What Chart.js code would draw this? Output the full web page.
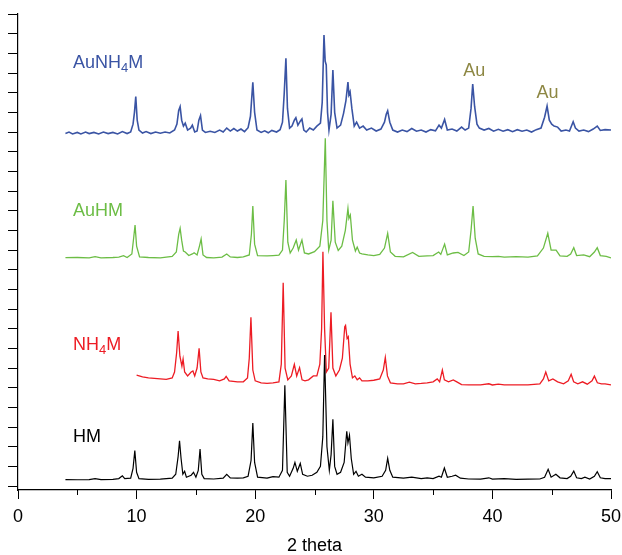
<!DOCTYPE html>
<html>
<head>
<meta charset="utf-8">
<script src="https://cdn.jsdelivr.net/npm/chart.js@4"></script>
<style>
  html, body { margin: 0; padding: 0; background: #fff; }
  #wrap { width: 622px; height: 555px; }
</style>
</head>
<body>
<div id="wrap"><canvas id="grafico"></canvas></div>
<script>
// 2 theta positions and stacked (offset) intensities
const hmTheta = [4.0,5.0,6.0,6.5,7.0,8.0,8.5,8.8,9.0,9.5,9.7,9.85,10.0,10.2,11.0,12.0,13.0,13.3,13.5,13.62,13.75,13.9,14.05,14.2,14.6,14.8,15.0,15.2,15.35,15.5,15.7,16.5,17.3,17.6,17.9,18.5,19.0,19.4,19.65,19.8,19.95,20.2,21.0,21.5,22.0,22.3,22.5,22.7,22.9,23.2,23.35,23.55,23.8,24.0,24.4,24.8,25.2,25.5,25.7,25.85,26.05,26.25,26.4,26.55,26.7,26.9,27.2,27.5,27.72,27.82,27.95,28.1,28.3,28.5,28.7,29.0,29.3,30.0,30.7,31.0,31.17,31.35,31.6,32.5,33.2,34.0,34.5,35.0,35.5,35.7,35.95,36.2,36.6,36.9,37.3,38.0,39.0,39.7,40.0,41.0,42.0,43.0,44.0,44.4,44.7,44.95,45.35,45.7,46.3,46.6,46.86,47.1,47.5,47.8,48.2,48.6,48.84,49.1,49.5,50.0];
const hmInt = [0.33,0.32,0.33,0.38,0.33,0.34,0.38,0.52,0.38,0.4,0.9,1.8,0.7,0.38,0.34,0.35,0.4,0.6,1.5,2.3,1.4,0.6,0.75,0.45,0.55,0.7,0.45,0.8,1.88,0.6,0.38,0.36,0.4,0.6,0.42,0.4,0.42,0.5,1.3,3.2,1.2,0.45,0.4,0.48,0.45,0.8,5.12,0.7,0.5,0.9,1.2,0.75,1.15,0.6,0.5,0.55,0.7,1.0,2.5,6.66,2.0,0.8,1.6,3.4,1.0,0.6,0.7,1.2,2.78,2.2,2.58,1.4,0.6,0.75,0.5,0.6,0.45,0.42,0.5,0.8,1.41,0.8,0.45,0.4,0.45,0.38,0.42,0.38,0.5,0.45,0.92,0.45,0.5,0.55,0.4,0.36,0.35,0.42,0.35,0.38,0.34,0.35,0.36,0.45,0.85,0.45,0.6,0.42,0.38,0.5,0.76,0.42,0.38,0.45,0.36,0.5,0.73,0.42,0.38,0.38];

const nh4mTheta = [10.0,10.5,11.0,11.5,12.0,12.5,13.0,13.2,13.38,13.5,13.65,13.82,13.92,14.05,14.3,14.6,14.75,14.9,15.1,15.27,15.42,15.6,16.0,16.5,17.0,17.4,17.55,17.8,18.5,19.0,19.35,19.5,19.64,19.8,20.0,20.5,21.0,21.5,22.0,22.2,22.36,22.52,22.75,23.05,23.3,23.5,23.74,23.95,24.2,24.5,24.9,25.2,25.45,25.6,25.71,25.85,26.0,26.2,26.39,26.55,26.8,27.1,27.35,27.55,27.62,27.75,27.85,28.0,28.2,28.4,28.6,28.8,29.0,29.5,30.0,30.5,30.8,30.97,31.15,31.4,32.0,32.5,33.0,33.5,34.0,34.5,35.0,35.35,35.55,35.78,35.95,36.3,36.7,37.0,37.4,38.0,39.0,39.7,40.0,40.5,41.0,42.0,43.0,44.0,44.3,44.5,44.75,45.1,45.5,46.0,46.4,46.64,46.85,47.2,47.6,48.0,48.4,48.6,48.85,49.2,49.5,50.0];
const nh4mInt = [5.64,5.55,5.5,5.48,5.45,5.42,5.5,5.8,6.8,7.88,6.6,6.1,6.46,5.8,5.6,5.8,5.85,5.6,6.0,7.0,5.8,5.5,5.45,5.42,5.35,5.45,5.58,5.35,5.3,5.3,5.5,6.5,8.58,5.9,5.35,5.25,5.22,5.25,5.3,6.2,10.34,6.0,5.4,5.6,6.19,5.6,6.02,5.4,5.35,5.4,5.6,5.6,6.2,8.0,11.91,8.0,5.8,6.0,8.83,6.0,5.6,5.9,6.5,8.1,8.17,7.5,7.59,6.2,5.5,5.6,5.4,5.5,5.35,5.35,5.38,5.45,5.9,6.54,5.6,5.25,5.2,5.2,5.28,5.2,5.22,5.25,5.3,5.45,5.3,5.9,5.4,5.3,5.4,5.3,5.16,5.14,5.14,5.2,5.14,5.18,5.14,5.14,5.14,5.2,5.45,5.8,5.35,5.45,5.3,5.2,5.35,5.68,5.3,5.2,5.3,5.18,5.35,5.59,5.25,5.2,5.2,5.14];

const auhmTheta = [4.0,5.0,6.0,6.5,7.0,8.0,8.5,8.9,9.2,9.6,9.75,9.87,10.0,10.25,11.0,12.0,13.0,13.35,13.55,13.67,13.8,13.95,14.1,14.4,14.7,14.85,15.1,15.3,15.44,15.6,15.9,16.5,17.2,17.6,17.9,18.5,19.0,19.5,19.68,19.8,19.95,20.2,21.0,21.5,22.0,22.3,22.45,22.59,22.75,22.95,23.2,23.46,23.65,23.94,24.15,24.5,25.0,25.45,25.7,25.91,26.05,26.2,26.4,26.55,26.75,27.0,27.3,27.6,27.82,27.9,28.02,28.2,28.45,28.6,28.8,29.0,29.5,30.0,30.5,30.9,31.17,31.4,31.8,32.5,33.27,33.8,34.5,35.0,35.47,35.65,35.97,36.2,36.7,37.1,37.6,38.0,38.2,38.37,38.55,38.8,39.3,40.0,40.5,41.0,42.0,43.0,43.8,44.3,44.67,44.95,45.37,45.7,46.3,46.6,46.86,47.1,47.7,48.2,48.6,48.84,49.1,49.6,50.0];
const auhmInt = [11.61,11.62,11.6,11.66,11.6,11.62,11.64,11.71,11.62,11.8,12.6,13.27,12.2,11.65,11.62,11.6,11.68,11.9,12.8,13.1,12.5,11.95,11.9,11.72,11.8,11.86,11.75,12.2,12.56,11.75,11.62,11.6,11.64,11.8,11.65,11.62,11.65,11.75,12.8,14.24,12.3,11.72,11.7,11.72,11.74,12.0,13.5,15.56,12.4,11.85,12.1,12.51,12.0,12.51,11.85,11.8,11.92,12.2,13.5,17.68,13.5,12.0,12.5,14.51,12.4,11.98,12.2,13.0,14.12,13.6,13.78,12.5,11.95,12.15,11.85,11.8,11.75,11.72,11.78,12.1,12.85,11.9,11.68,11.65,11.88,11.68,11.7,11.72,11.9,11.78,12.3,11.75,11.85,11.88,11.72,11.9,13.0,14.24,12.6,11.8,11.68,11.66,11.68,11.64,11.66,11.64,11.7,12.1,12.85,12.0,12.0,11.7,11.68,11.8,12.12,11.72,11.75,11.66,11.9,12.12,11.72,11.68,11.6];

const aunh4mTheta = [4.0,4.3,4.6,5.0,5.3,5.7,6.0,6.4,6.8,7.2,7.6,8.0,8.4,8.8,9.2,9.5,9.7,9.82,9.93,10.05,10.2,10.5,10.8,11.2,11.6,12.0,12.4,12.8,13.2,13.4,13.55,13.67,13.8,13.95,14.1,14.3,14.55,14.7,14.9,15.1,15.25,15.39,15.55,15.8,16.2,16.6,17.0,17.3,17.6,17.9,18.2,18.5,18.8,19.1,19.4,19.6,19.8,19.95,20.15,20.5,20.8,21.1,21.4,21.8,22.1,22.3,22.45,22.59,22.72,22.9,23.1,23.3,23.43,23.6,23.8,23.94,24.1,24.3,24.6,24.9,25.2,25.5,25.65,25.8,25.9,25.99,26.1,26.22,26.4,26.55,26.7,26.9,27.2,27.45,27.65,27.82,27.9,28.0,28.15,28.35,28.55,28.8,29.1,29.4,29.8,30.2,30.6,30.9,31.05,31.17,31.35,31.6,32.0,32.4,32.8,33.2,33.6,34.0,34.4,34.8,35.2,35.5,35.7,35.97,36.2,36.6,37.0,37.4,37.7,38.0,38.2,38.34,38.5,38.7,38.9,39.3,39.7,40.1,40.5,40.9,41.3,41.7,42.1,42.5,42.9,43.3,43.7,44.1,44.4,44.61,44.8,45.0,45.2,45.5,45.8,46.2,46.5,46.81,47.0,47.3,47.7,48.1,48.5,48.84,49.1,49.5,50.0];
const aunh4mInt = [17.93,18.0,17.9,17.98,17.9,18.0,17.92,17.98,17.9,18.0,17.92,17.98,17.9,18.02,17.92,18.0,18.4,19.0,19.8,18.6,18.1,17.95,18.02,17.92,18.0,17.94,18.0,17.95,18.1,18.4,19.1,19.29,18.6,18.3,18.45,18.1,18.2,18.35,18.0,18.05,18.6,18.83,18.1,17.98,18.04,17.98,18.1,18.0,18.2,18.05,18.18,18.05,18.15,18.02,18.22,18.8,20.53,19.0,18.1,17.98,18.06,17.96,18.08,18.0,18.12,18.5,20.0,21.75,19.2,18.2,18.3,18.6,18.73,18.35,18.55,18.66,18.1,18.0,18.2,18.1,18.3,18.45,19.5,22.93,21.6,21.41,19.0,18.1,18.9,21.15,19.0,18.2,18.35,18.95,19.6,20.54,19.9,20.05,19.2,18.3,18.5,18.2,18.3,18.1,18.2,18.05,18.15,18.5,18.9,19.08,18.5,18.1,18.0,18.1,18.02,18.18,18.04,18.1,18.0,18.12,18.06,18.35,18.2,18.64,18.1,18.15,18.05,18.25,18.1,18.2,19.2,20.44,19.3,18.4,18.2,18.1,18.18,18.04,18.14,18.04,18.12,18.02,18.12,18.04,18.1,18.0,18.12,18.2,18.75,19.32,18.6,18.4,18.3,18.25,18.05,18.1,18.05,18.52,18.2,18.05,18.1,18.02,18.15,18.3,18.08,18.12,18.1];

const xTicks = [0, 10, 20, 30, 40, 50];
const xMinorTicks = [5, 15, 25, 35, 45];
const yTicks = [0,1,2,3,4,5,6,7,8,9,10,11,12,13,14,15,16,17,18,19,20,21,22,23,24];

// etiquetas de las curvas: [texto, subindice, resto, x, y, color]
const curveLabels = [
    ["AuNH", "4", "M", 4.64, 21.25, "#3a54a4"],
    ["AuHM", "", "", 4.64, 13.73, "#6cbd45"],
    ["NH", "4", "M", 4.64, 6.92, "#ed1c24"],
    ["HM", "", "", 4.64, 2.25, "#000000"]
];
const peakLabels = [
    ["Au", 38.48, 20.85],
    ["Au", 44.64, 19.73]
];

const toPoints = (xs, ys) => xs.map((t, i) => ({x: t, y: ys[i]}));

const FONT = "'Liberation Sans', Arial, Helvetica, sans-serif";

const textoPlugin = {
    id: "textos",
    afterDatasetsDraw(chart) {
        const ctx = chart.ctx;
        const sx = chart.scales.x, sy = chart.scales.y;
        ctx.save();
        ctx.textBaseline = "alphabetic";
        curveLabels.forEach(l => {
            let px = sx.getPixelForValue(l[3]);
            let py = sy.getPixelForValue(l[4]);
            ctx.fillStyle = l[5];
            ctx.textAlign = "left";
            ctx.font = "18px " + FONT;
            ctx.fillText(l[0], px, py);
            px += ctx.measureText(l[0]).width;
            if (l[1]) {
                ctx.font = "13px " + FONT;
                ctx.fillText(l[1], px, py + 4);
                px += ctx.measureText(l[1]).width;
                ctx.font = "18px " + FONT;
                ctx.fillText(l[2], px, py);
            }
        });
        ctx.fillStyle = "#8d8743";
        ctx.textAlign = "center";
        ctx.font = "18px " + FONT;
        peakLabels.forEach(l => {
            ctx.fillText(l[0], sx.getPixelForValue(l[1]), sy.getPixelForValue(l[2]));
        });
        // ticks menores del eje x
        ctx.strokeStyle = "#000";
        ctx.lineWidth = 1;
        const yb = sx.top;
        xMinorTicks.forEach(v => {
            const px = Math.round(sx.getPixelForValue(v)) + 0.5;
            ctx.beginPath();
            ctx.moveTo(px, yb);
            ctx.lineTo(px, yb + 5);
            ctx.stroke();
        });
        ctx.restore();
    }
};

const serie = (label, xs, ys, color, width) => ({
    label: label,
    data: toPoints(xs, ys),
    borderColor: color,
    borderWidth: width,
    pointRadius: 0,
    tension: 0,
    fill: false
});

new Chart(document.getElementById("grafico"), {
    type: "line",
    data: {
        datasets: [
            serie("HM", hmTheta, hmInt, "#000000", 1.2),
            serie("NH4M", nh4mTheta, nh4mInt, "#ed1c24", 1.3),
            serie("AuHM", auhmTheta, auhmInt, "#6cbd45", 1.3),
            serie("AuNH4M", aunh4mTheta, aunh4mInt, "#3a54a4", 1.6)
        ]
    },
    options: {
        responsive: true,
        maintainAspectRatio: false,
        animation: false,
        layout: { padding: { top: 14, right: 11, left: 0, bottom: 0 } },
        plugins: {
            legend: { display: false },
            tooltip: { enabled: false }
        },
        scales: {
            x: {
                type: "linear",
                min: 0,
                max: 50,
                afterBuildTicks: s => { s.ticks = xTicks.map(v => ({value: v})); },
                afterFit: s => { s.height = 65; s.paddingLeft = 0; s.paddingRight = 0; },
                border: { color: "#000", width: 1.2 },
                grid: { drawOnChartArea: false, tickLength: 9, color: "#000", tickColor: "#000" },
                ticks: { color: "#000", font: { family: FONT, size: 18 }, padding: 7, maxRotation: 0 },
                title: { display: true, text: "2 theta", color: "#000", font: { family: FONT, size: 18, lineHeight: 1 }, padding: { top: 0, bottom: 0 } }
            },
            y: {
                type: "linear",
                min: -0.2,
                max: 24,
                afterBuildTicks: s => { s.ticks = yTicks.map(v => ({value: v})); },
                afterFit: s => { s.width = 18; },
                border: { color: "#000", width: 1.2 },
                grid: { drawOnChartArea: false, tickLength: 10, color: "#000", tickColor: "#000" },
                ticks: { display: false }
            }
        }
    },
    plugins: [textoPlugin]
});
</script>
</body>
</html>
